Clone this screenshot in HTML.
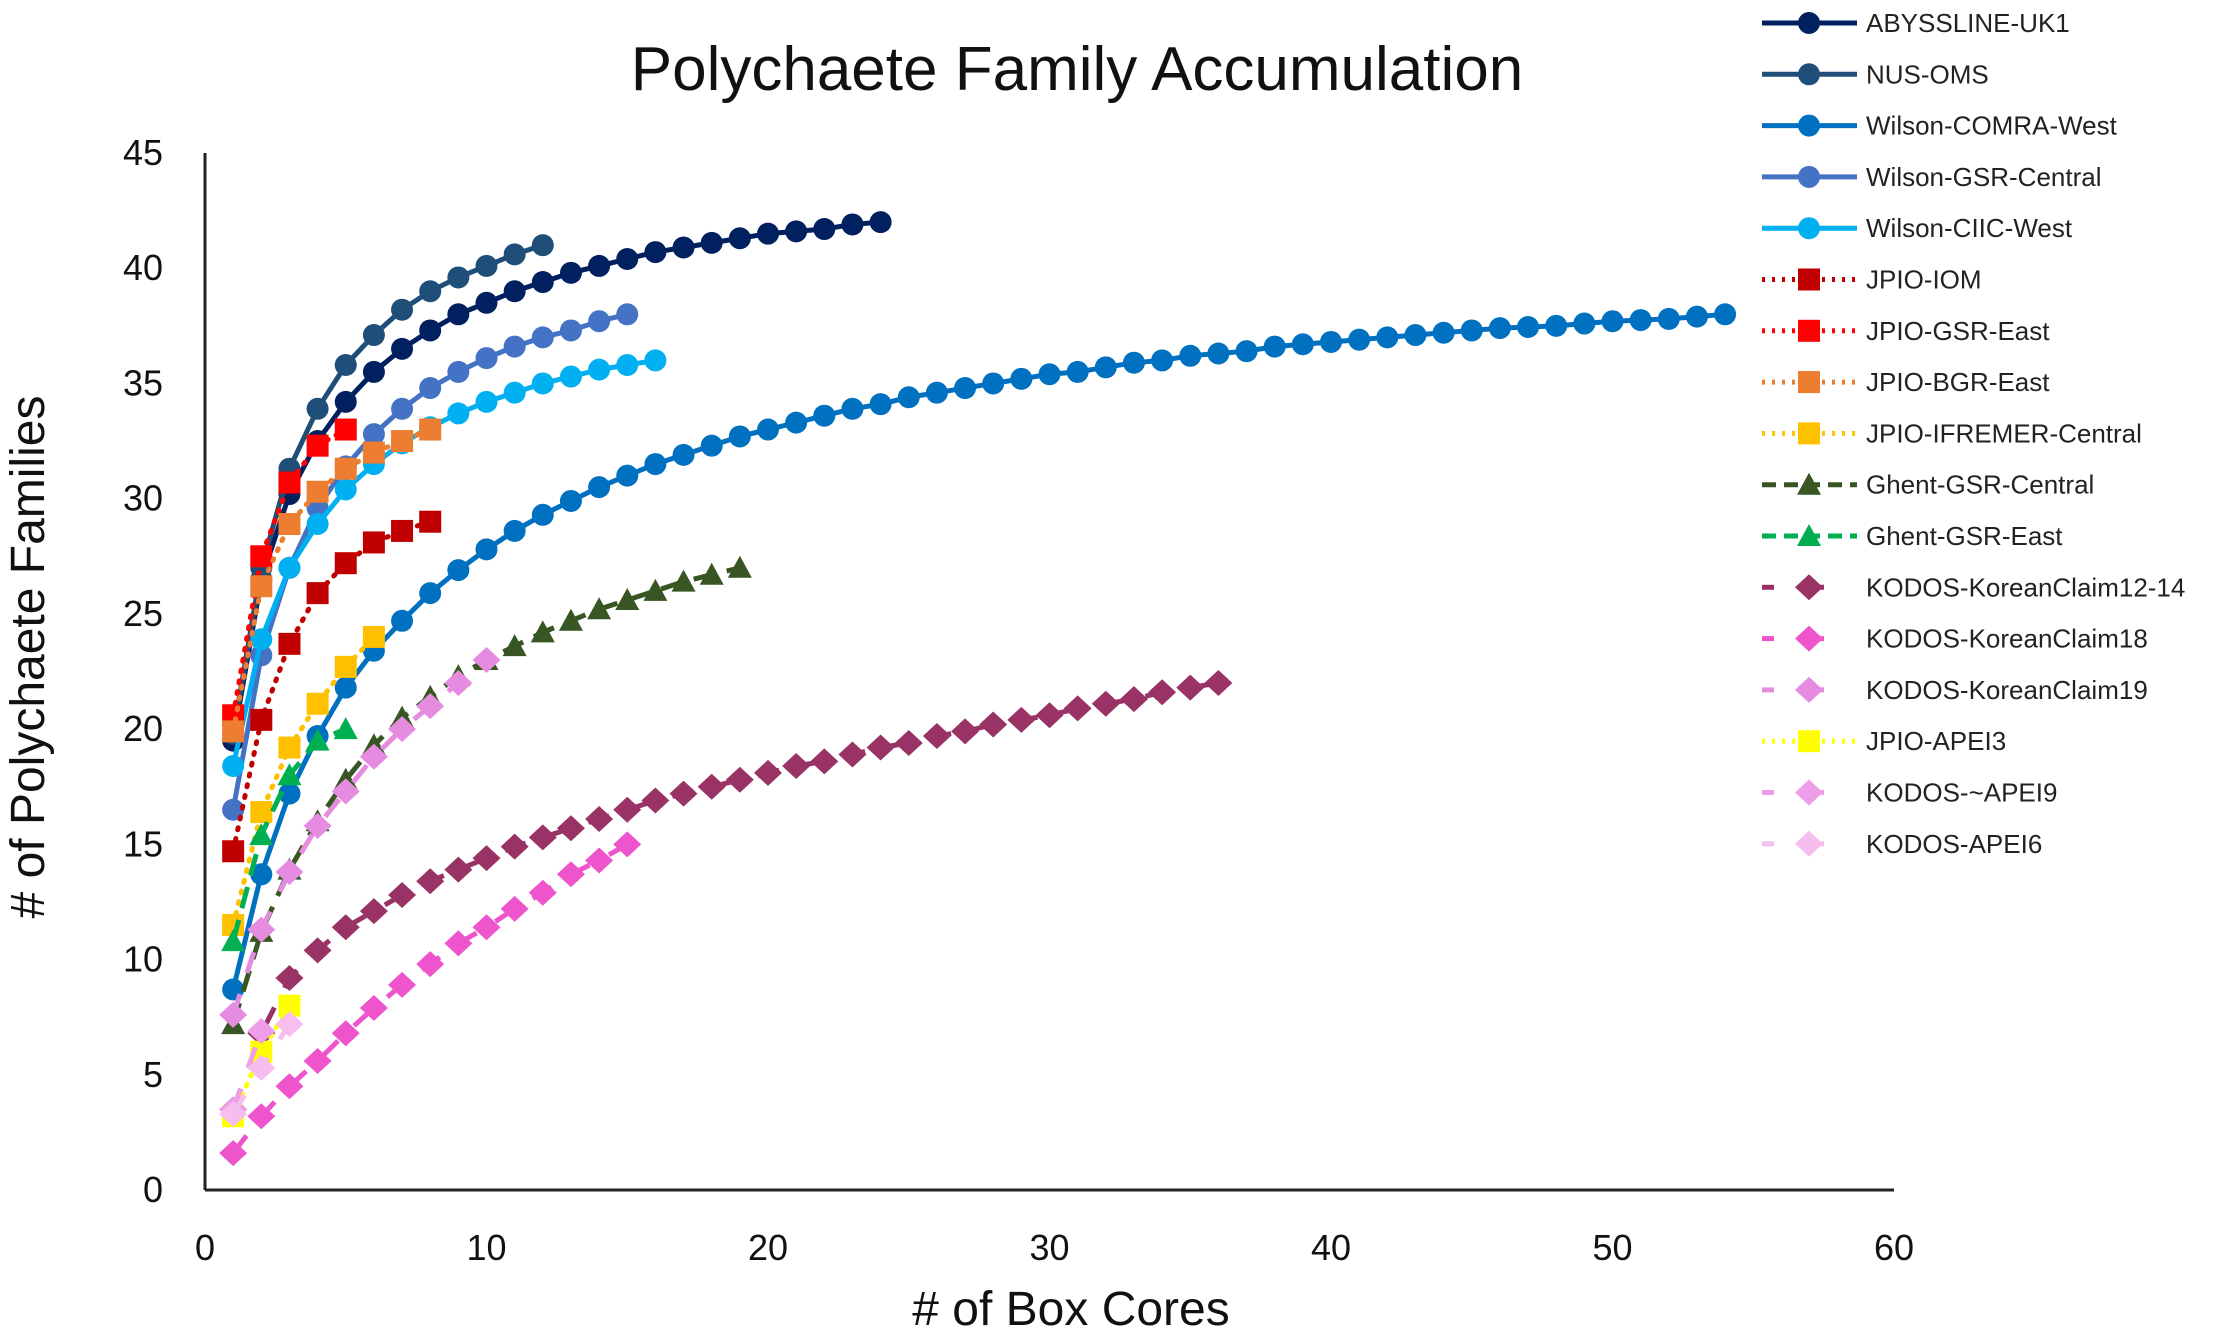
<!DOCTYPE html>
<html><head><meta charset="utf-8">
<style>
html,body{margin:0;padding:0;background:#fff;}
svg{display:block;font-family:"Liberation Sans",sans-serif;}
</style></head>
<body>
<svg id="chart" width="2216" height="1331" viewBox="0 0 2216 1331">
<text x="1077" y="90" font-size="62" text-anchor="middle" fill="#111">Polychaete Family Accumulation</text>
<text transform="translate(44,657) rotate(-90)" font-size="48" text-anchor="middle" fill="#111"># of Polychaete Families</text>
<text x="1071" y="1325" font-size="48" text-anchor="middle" fill="#111"># of Box Cores</text>
<g id="axes"></g><g id="series"></g><g id="legend"></g>
</svg>
<script>
const xTicks=[0,10,20,30,40,50,60];
const yTicks=[0,5,10,15,20,25,30,35,40,45];
const names=["ABYSSLINE-UK1","NUS-OMS","Wilson-COMRA-West","Wilson-GSR-Central","Wilson-CIIC-West","JPIO-IOM","JPIO-GSR-East","JPIO-BGR-East","JPIO-IFREMER-Central","Ghent-GSR-Central","Ghent-GSR-East","KODOS-KoreanClaim12-14","KODOS-KoreanClaim18","KODOS-KoreanClaim19","JPIO-APEI3","KODOS-~APEI9","KODOS-APEI6"];
const sAbyss=[19.5,26.5,30.2,32.5,34.2,35.5,36.5,37.3,38,38.5,39,39.4,39.8,40.1,40.4,40.7,40.9,41.1,41.3,41.5,41.6,41.7,41.9,42];
const sNus=[19.8,27,31.3,33.9,35.8,37.1,38.2,39,39.6,40.1,40.6,41];
const sComra=[8.7,13.7,17.2,19.7,21.8,23.4,24.7,25.9,26.9,27.8,28.6,29.3,29.9,30.5,31,31.5,31.9,32.3,32.7,33,33.3,33.6,33.9,34.1,34.4,34.6,34.8,35,35.2,35.4,35.5,35.7,35.9,36,36.2,36.3,36.4,36.6,36.7,36.8,36.9,37,37.1,37.2,37.3,37.4,37.45,37.5,37.6,37.7,37.75,37.8,37.9,38];
const sGsrC=[16.5,23.2,27,29.6,31.4,32.8,33.9,34.8,35.5,36.1,36.6,37,37.3,37.7,38];
const sCiic=[18.4,23.9,27,28.9,30.4,31.5,32.4,33.1,33.7,34.2,34.6,35,35.3,35.6,35.8,36];
const sIom=[14.7,20.4,23.7,25.9,27.2,28.1,28.6,29];
const sGsrE=[20.6,27.5,30.7,32.3,33];
const sBgr=[19.9,26.2,28.9,30.3,31.3,32,32.5,33];
const sIfr=[11.5,16.4,19.2,21.1,22.7,24];
const sGhC=[7.2,11.2,13.9,16,17.8,19.3,20.5,21.4,22.3,23,23.6,24.2,24.7,25.2,25.6,26,26.4,26.7,27];
const sGhE=[10.8,15.4,18,19.5,20];
const sK1214=[3.5,6.8,9.2,10.4,11.4,12.1,12.8,13.4,13.9,14.4,14.9,15.3,15.7,16.1,16.5,16.9,17.2,17.5,17.8,18.1,18.4,18.6,18.9,19.2,19.4,19.7,19.9,20.2,20.4,20.6,20.9,21.1,21.3,21.6,21.8,22];
const sK18=[1.6,3.2,4.5,5.6,6.8,7.9,8.9,9.8,10.7,11.4,12.2,12.9,13.7,14.3,15];
const sK19=[7.6,11.3,13.8,15.8,17.3,18.8,20,21,22,23];
const sApei3=[3.2,6,8];
const sApei9=[3.5,6.9];
const sApei6=[3.3,5.3,7.2];
const seriesData=[sAbyss,sNus,sComra,sGsrC,sCiic,sIom,sGsrE,sBgr,sIfr,sGhC,sGhE,sK1214,sK18,sK19,sApei3,sApei9,sApei6];
const colors=["#002060","#1F4E79","#0070C0","#4472C4","#00B0F0","#C00000","#FF0000","#ED7D31","#FFC000","#375623","#00B050","#993366","#EE55CC","#E58BE0","#FFFF00","#EE9EE8","#F6BEEE"];
const markers=["c","c","c","c","c","s","s","s","s","t","t","d","d","d","s","d","d"];
const dashes=["","","","","","2 9","2 9","2 9","2 9","22 12","22 12","22 22","22 22","22 22","2 9","22 22","22 22"];
const X0=205,X1=1894,Y0=1190,Y1=153;
function xs(v){return X0+(v-0)*(X1-X0)/60;}
function ys(v){return Y0-(v-0)*(Y0-Y1)/45;}
const NS="http://www.w3.org/2000/svg";
function mk(tag,attrs,parent){const e=document.createElementNS(NS,tag);for(const k in attrs)e.setAttribute(k,attrs[k]);parent.appendChild(e);return e;}
const axes=document.getElementById('axes');
let a=mk('line',{x1:X0,y1:Y0,x2:X1,y2:Y0,stroke:'#222','stroke-width':3},axes);


a=mk('line',{x1:X0,y1:Y0,x2:X0,y2:Y1,stroke:'#222','stroke-width':3},axes);


xTicks.forEach(t=>{const e=mk('text',{x:xs(t),y:1260,'font-size':36,'text-anchor':'middle',fill:'#111'},axes);e.textContent=t;

});
yTicks.forEach(t=>{const e=mk('text',{x:163,y:ys(t)+12,'font-size':36,'text-anchor':'end',fill:'#111'},axes);e.textContent=t;

});
function marker(type,x,y,col,parent){
  let e;
  if(type==='c')e=mk('circle',{cx:x,cy:y,r:11,fill:col},parent);
  else if(type==='s')e=mk('rect',{x:x-11,y:y-11,width:22,height:22,fill:col},parent);
  else if(type==='t')e=mk('polygon',{points:`${x},${y-12} ${x+12},${y+10} ${x-12},${y+10}`,fill:col},parent);
  else e=mk('polygon',{points:`${x},${y-13} ${x+14},${y} ${x},${y+13} ${x-14},${y}`,fill:col},parent);
  return e;
}
const sg=document.getElementById('series');
seriesData.forEach((arr,i)=>{
  const g=mk('g',{},sg);
  
  
  const pts=arr.map((v,j)=>xs(j+1)+','+ys(v)).join(' ');
  const pl=mk('polyline',{points:pts,fill:'none',stroke:colors[i],'stroke-width':5,'stroke-dasharray':dashes[i],'stroke-linecap':dashes[i].startsWith('2 ')?'round':'butt','stroke-linejoin':'round'},g);
  
  
  arr.forEach((v,j)=>{const m=marker(markers[i],xs(j+1),ys(v),colors[i],g);
    
    });
});
const lg=document.getElementById('legend');
names.forEach((n,i)=>{
  const y=23+i*51.3;
  const g=mk('g',{},lg);
  
  
  mk('line',{x1:1762,y1:y,x2:1857,y2:y,stroke:colors[i],'stroke-width':5,'stroke-dasharray':dashes[i]?dashes[i].replace('22 22','12 38').replace('22 12','14 8').replace('2 9','3 7'):''},g);
  marker(markers[i],1809,y,colors[i],g);
  const t=mk('text',{x:1866,y:y+9,'font-size':26,fill:'#222'},g);t.textContent=n;
});
</script>
</body></html>
